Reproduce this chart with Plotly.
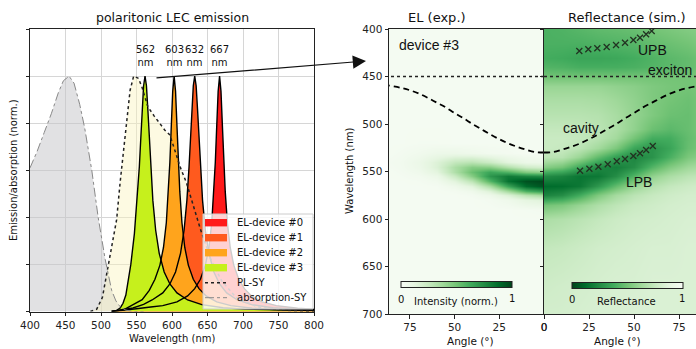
import plotly.graph_objects as go

# ---------------- left panel data ----------------
abs_wl = [400, 410, 420, 430, 440, 447, 455, 462, 470, 477, 487, 496, 506, 515, 521, 527, 535, 545, 560]
abs_val = [0.61, 0.68, 0.76, 0.84, 0.93, 0.98, 1.0, 0.97, 0.88, 0.78, 0.60, 0.40, 0.22, 0.09, 0.045, 0.02, 0.006, 0.0, 0.0]

pl_wl = [485, 494, 502, 510, 516, 522, 527, 531, 534, 537, 541, 546, 553, 558, 566, 575, 583, 590, 597,
         605, 612, 620, 630, 640, 655, 670, 690, 720, 760, 800]
pl_val = [0.0, 0.01, 0.06, 0.19, 0.29, 0.39, 0.55, 0.66, 0.76, 0.85, 0.94, 1.0, 0.99, 0.95, 0.87, 0.83, 0.80, 0.77, 0.75,
          0.68, 0.61, 0.55, 0.45, 0.35, 0.22, 0.13, 0.06, 0.02, 0.005, 0.0]

el3_wl = [515, 522, 527, 531, 535, 542, 547, 551, 554, 556, 558, 560, 562, 564, 566, 568, 570, 573, 577, 582, 589,
          597, 607, 622, 642, 672, 702, 750, 800]
el3_val = [0.0, 0.005, 0.015, 0.035, 0.07, 0.2, 0.33, 0.473, 0.615, 0.733, 0.857, 0.959, 1.0, 0.959, 0.857, 0.733,
           0.615, 0.473, 0.345, 0.247, 0.168, 0.117, 0.079, 0.049, 0.029, 0.016, 0.01, 0.006, 0.004]

el2_wl = [515, 525, 535, 543, 558, 568, 576, 583, 588, 592, 595, 597, 599, 601, 603, 605, 607, 609, 611, 614, 618,
          623, 630, 638, 648, 663, 683, 713, 743, 800]
el2_val = [0.0, 0.004, 0.012, 0.025, 0.05, 0.09, 0.137, 0.197, 0.272, 0.377, 0.509, 0.634, 0.788, 0.935, 1.0, 0.935,
           0.788, 0.634, 0.509, 0.377, 0.272, 0.197, 0.137, 0.097, 0.066, 0.041, 0.025, 0.014, 0.008, 0.005]

el1_wl = [515, 530, 545, 560, 572, 587, 597, 605, 612, 617, 621, 624, 626, 628, 630, 632, 634, 636, 638, 640, 643,
          647, 652, 659, 667, 677, 692, 712, 742, 772, 800]
el1_val = [0.0, 0.006, 0.015, 0.03, 0.049, 0.079, 0.117, 0.168, 0.247, 0.345, 0.473, 0.615, 0.733, 0.857, 0.959, 1.0,
           0.959, 0.857, 0.733, 0.615, 0.473, 0.345, 0.247, 0.168, 0.117, 0.079, 0.049, 0.029, 0.016, 0.01, 0.008]

el0_wl = [515, 530, 550, 570, 587, 607, 622, 632, 640, 647, 652, 656, 659, 661, 663, 665, 667, 669, 671, 673, 675,
          678, 682, 687, 694, 702, 712, 727, 747, 777, 800]
el0_val = [0.0, 0.004, 0.012, 0.019, 0.025, 0.041, 0.066, 0.097, 0.137, 0.197, 0.272, 0.377, 0.509, 0.634, 0.788,
           0.935, 1.0, 0.935, 0.788, 0.634, 0.509, 0.377, 0.272, 0.197, 0.137, 0.097, 0.066, 0.041, 0.025, 0.014, 0.01]

peak_nm = [562, 603, 632, 667]
device_names = ["EL-device #0", "EL-device #1", "EL-device #2", "EL-device #3"]
device_colors = ["#ff1a1a", "#ff5a1e", "#ffa41c", "#c6f01c"]
pl_name = "PL-SY"
abs_name = "absorption-SY"

# ---------------- right panels data ----------------
el_angles = [0, 10, 20, 30, 40, 50, 60, 70, 80, 87]
el_rows_nm = [400, 450, 500, 520, 530, 540, 545, 550, 555, 560, 565, 570, 575, 580, 590, 600, 650, 700]
el_intensity = [
    [0.02, 0.02, 0.02, 0.02, 0.02, 0.02, 0.02, 0.02, 0.02, 0.02],
    [0.02, 0.02, 0.02, 0.02, 0.02, 0.02, 0.02, 0.02, 0.02, 0.02],
    [0.02, 0.02, 0.02, 0.02, 0.02, 0.02, 0.02, 0.02, 0.02, 0.02],
    [0.02, 0.02, 0.02, 0.02, 0.02, 0.02, 0.025, 0.025, 0.02, 0.02],
    [0.02, 0.02, 0.03, 0.04, 0.06, 0.076, 0.073, 0.048, 0.03, 0.02],
    [0.07, 0.08, 0.135, 0.23, 0.29, 0.26, 0.16, 0.08, 0.04, 0.03],
    [0.19, 0.22, 0.32, 0.44, 0.45, 0.34, 0.166, 0.074, 0.038, 0.025],
    [0.43, 0.47, 0.59, 0.65, 0.52, 0.33, 0.13, 0.056, 0.03, 0.02],
    [0.76, 0.78, 0.82, 0.71, 0.45, 0.24, 0.08, 0.038, 0.025, 0.02],
    [0.99, 0.96, 0.85, 0.58, 0.29, 0.14, 0.046, 0.025, 0.02, 0.02],
    [0.96, 0.88, 0.65, 0.35, 0.145, 0.065, 0.025, 0.02, 0.02, 0.02],
    [0.69, 0.60, 0.37, 0.16, 0.06, 0.03, 0.02, 0.02, 0.02, 0.02],
    [0.37, 0.30, 0.165, 0.07, 0.03, 0.02, 0.02, 0.02, 0.02, 0.02],
    [0.15, 0.12, 0.06, 0.03, 0.02, 0.02, 0.02, 0.02, 0.02, 0.02],
    [0.03, 0.025, 0.02, 0.02, 0.02, 0.02, 0.02, 0.02, 0.02, 0.02],
    [0.02, 0.02, 0.02, 0.02, 0.02, 0.02, 0.02, 0.02, 0.02, 0.02],
    [0.02, 0.02, 0.02, 0.02, 0.02, 0.02, 0.02, 0.02, 0.02, 0.02],
    [0.02, 0.02, 0.02, 0.02, 0.02, 0.02, 0.02, 0.02, 0.02, 0.02],
]

refl_angles = [0, 10, 20, 30, 40, 50, 60, 70, 80, 85]
refl_rows_nm = [400, 415, 430, 440, 450, 460, 475, 490, 505, 515, 525, 535, 545, 555, 565, 575, 585, 600, 630, 670, 700]
reflectance = [
    [0.40, 0.41, 0.43, 0.45, 0.46, 0.47, 0.50, 0.52, 0.54, 0.55],
    [0.40, 0.40, 0.40, 0.41, 0.42, 0.43, 0.46, 0.48, 0.50, 0.52],
    [0.38, 0.37, 0.35, 0.35, 0.36, 0.38, 0.41, 0.44, 0.46, 0.48],
    [0.42, 0.41, 0.39, 0.39, 0.39, 0.40, 0.42, 0.44, 0.46, 0.48],
    [0.50, 0.50, 0.50, 0.50, 0.50, 0.50, 0.50, 0.50, 0.50, 0.51],
    [0.60, 0.60, 0.60, 0.60, 0.58, 0.56, 0.53, 0.51, 0.50, 0.51],
    [0.66, 0.66, 0.66, 0.65, 0.62, 0.58, 0.53, 0.50, 0.48, 0.50],
    [0.70, 0.70, 0.70, 0.69, 0.65, 0.59, 0.53, 0.48, 0.47, 0.50],
    [0.74, 0.74, 0.73, 0.71, 0.66, 0.58, 0.48, 0.44, 0.47, 0.50],
    [0.76, 0.76, 0.74, 0.70, 0.63, 0.50, 0.38, 0.38, 0.46, 0.49],
    [0.76, 0.75, 0.71, 0.63, 0.52, 0.35, 0.28, 0.35, 0.47, 0.50],
    [0.72, 0.70, 0.60, 0.45, 0.32, 0.23, 0.28, 0.40, 0.52, 0.55],
    [0.55, 0.50, 0.36, 0.24, 0.20, 0.26, 0.42, 0.54, 0.62, 0.64],
    [0.25, 0.22, 0.16, 0.17, 0.26, 0.42, 0.58, 0.66, 0.71, 0.72],
    [0.12, 0.13, 0.17, 0.30, 0.46, 0.60, 0.69, 0.74, 0.77, 0.78],
    [0.22, 0.26, 0.38, 0.53, 0.64, 0.71, 0.75, 0.78, 0.80, 0.80],
    [0.50, 0.53, 0.60, 0.67, 0.72, 0.76, 0.78, 0.80, 0.81, 0.81],
    [0.66, 0.68, 0.71, 0.74, 0.77, 0.79, 0.80, 0.81, 0.82, 0.82],
    [0.74, 0.75, 0.77, 0.79, 0.80, 0.81, 0.82, 0.82, 0.83, 0.83],
    [0.78, 0.79, 0.80, 0.81, 0.82, 0.82, 0.83, 0.83, 0.83, 0.83],
    [0.80, 0.80, 0.81, 0.82, 0.82, 0.83, 0.83, 0.83, 0.83, 0.83],
]

cavity_angle = [0, 5, 10, 15, 20, 25, 30, 35, 40, 45, 50, 55, 60, 65, 70, 75, 80, 87]
cavity_nm = [530, 529.5, 527, 524, 520.5, 516, 511, 505.5, 500, 494, 488.5, 482.5, 477.5, 472.5, 468, 464.5, 462, 459.5]
exciton_nm = 450

upb_angle = [19.6, 24.6, 29.6, 34.8, 40, 45, 49.6, 53.3, 56.7, 59.8]
upb_nm = [423.2, 421.4, 420.3, 419, 416.8, 414.4, 411.6, 409.2, 405.6, 402.1]
lpb_angle = [20, 25.2, 30.2, 35.4, 40.4, 45, 49.6, 53.3, 56.7, 60.4]
lpb_nm = [549.2, 547.1, 545, 542.4, 539.3, 536.8, 533.7, 530.8, 527.4, 523.2]

wl_ticks = [400, 450, 500, 550, 600, 650, 700, 750, 800]
angle_ticks = [0, 25, 50, 75]

greens = [[0.0, "#f7fcf5"], [0.125, "#e5f5e0"], [0.25, "#c7e9c0"], [0.375, "#a1d99b"], [0.5, "#74c476"],
          [0.625, "#41ab5d"], [0.75, "#238b45"], [0.875, "#006d2c"], [1.0, "#00441b"]]
greens_r = [[1 - p, c] for p, c in reversed(greens)]

W, H = 696, 349
def px(x):
    return x / W
def py(y):
    return (H - y) / H

TICKF = dict(family="DejaVu Sans", size=10.5, color="#222")
fig = go.Figure()

# absorption
fig.add_trace(go.Scatter(x=abs_wl, y=abs_val, mode="lines", fill="tozeroy",
                         fillcolor="rgba(195,195,200,0.5)", line=dict(width=0), showlegend=False,
                         hoverinfo="skip", xaxis="x", yaxis="y"))
# PL fill
fig.add_trace(go.Scatter(x=pl_wl, y=pl_val, mode="lines", fill="tozeroy",
                         fillcolor="rgba(250,245,190,0.45)", line=dict(width=0), showlegend=False,
                         hoverinfo="skip", xaxis="x", yaxis="y"))
el_wls = [el0_wl, el1_wl, el2_wl, el3_wl]
el_vals = [el0_val, el1_val, el2_val, el3_val]
for i in range(4):
    fig.add_trace(go.Scatter(x=el_wls[i], y=el_vals[i], mode="lines", fill="tozeroy",
                             fillcolor=device_colors[i], line=dict(width=0, color=device_colors[i]),
                             name=device_names[i], showlegend=False, xaxis="x", yaxis="y"))
for i in range(4):
    fig.add_trace(go.Scatter(x=el_wls[i], y=el_vals[i], mode="lines", line=dict(width=1.4, color="black"),
                             showlegend=False, xaxis="x", yaxis="y"))
fig.add_trace(go.Scatter(x=pl_wl, y=pl_val, mode="lines", line=dict(width=1.5, color="#222", dash="dot"),
                         name=pl_name, showlegend=False, xaxis="x", yaxis="y"))
fig.add_trace(go.Scatter(x=abs_wl, y=abs_val, mode="lines", line=dict(width=1, color="#888", dash="dashdot"),
                         name=abs_name, showlegend=False, xaxis="x", yaxis="y"))

# EL heatmap
fig.add_trace(go.Heatmap(x=el_angles, y=el_rows_nm, z=el_intensity, colorscale=greens, zmin=0, zmax=1,
                         zsmooth="best", xaxis="x2", yaxis="y2",
                         colorbar=dict(orientation="h", x=px(456.5), y=py(285), xanchor="center", yanchor="middle",
                                       len=111 / W, lenmode="fraction", thickness=6, outlinewidth=1,
                                       outlinecolor="#222", showticklabels=False, ticks="", xpad=0, ypad=0)))
# Reflectance heatmap
fig.add_trace(go.Heatmap(x=refl_angles, y=refl_rows_nm, z=reflectance, colorscale=greens_r, zmin=0, zmax=1,
                         zsmooth="best", xaxis="x3", yaxis="y3",
                         colorbar=dict(orientation="h", x=px(627.5), y=py(286), xanchor="center", yanchor="middle",
                                       len=111 / W, lenmode="fraction", thickness=6, outlinewidth=1,
                                       outlinecolor="#222", showticklabels=False, ticks="", xpad=0, ypad=0)))

for xa, ya, amax in (("x2", "y2", 87), ("x3", "y3", 85)):
    fig.add_trace(go.Scatter(x=[0, amax], y=[exciton_nm, exciton_nm], mode="lines",
                             line=dict(color="#222", width=1.5, dash="dot"), showlegend=False, xaxis=xa, yaxis=ya))
    fig.add_trace(go.Scatter(x=cavity_angle, y=cavity_nm, mode="lines", line=dict(color="black", width=1.8,
                             dash="6px,4px", shape="spline"), showlegend=False, xaxis=xa, yaxis=ya))

for a, w in ((upb_angle, upb_nm), (lpb_angle, lpb_nm)):
    fig.add_trace(go.Scatter(x=a, y=w, mode="markers", showlegend=False, xaxis="x3", yaxis="y3",
                             marker=dict(symbol="x-thin", size=6, line=dict(width=1.3, color="#223322"))))

axis_common = dict(showline=True, linecolor="#222", linewidth=1, ticks="outside", ticklen=3.5, tickwidth=1,
                   tickcolor="#222", tickfont=TICKF, zeroline=False, automargin=False)

fig.update_layout(
    width=W, height=H, margin=dict(l=0, r=0, t=0, b=0, autoexpand=False), paper_bgcolor="white",
    plot_bgcolor="white", showlegend=False,
    xaxis=dict(domain=[px(30), px(314)], range=[400, 800], tickvals=wl_ticks, showgrid=True, gridcolor="#d6d6d6",
               mirror=True, anchor="y", **axis_common),
    yaxis=dict(domain=[py(311.5), py(29)], range=[0, 1.2], dtick=0.2, showgrid=True, gridcolor="#d6d6d6",
               showticklabels=False, mirror=True, anchor="x", **axis_common),
    xaxis2=dict(domain=[px(389), px(544)], range=[86.7, 0], tickvals=angle_ticks, showgrid=False, mirror=True,
                anchor="y2", **axis_common),
    yaxis2=dict(domain=[py(314), py(29)], range=[700, 400], tickvals=[400, 450, 500, 550, 600, 650, 700],
                showgrid=False, anchor="x2", **axis_common),
    xaxis3=dict(domain=[px(544), 1.0], range=[0, 84.4], tickvals=angle_ticks, showgrid=False, mirror=True,
                anchor="y3", **axis_common),
    yaxis3=dict(domain=[py(314), py(29)], range=[700, 400], tickvals=[400, 450, 500, 550, 600, 650, 700],
                showgrid=False, showticklabels=False, anchor="x3", **axis_common),
)

ann = []
def text(x, y, t, size=10, family="DejaVu Sans", angle=0, xref="paper", xanchor="center"):
    ann.append(dict(x=x, y=y, xref=xref, yref="paper", text=t, showarrow=False, textangle=angle,
                    xanchor=xanchor, yanchor="middle", font=dict(family=family, size=size, color="#111")))

# manual legend (matplotlib-like compact box)
shapes = [dict(type="rect", xref="paper", yref="paper", x0=px(203), x1=px(313), y0=py(309), y1=py(214),
               fillcolor="rgba(255,255,255,0.8)", line=dict(color="#cccccc", width=1), layer="above")]
row_y = [222.7, 237.7, 252.7, 267.7, 282.7, 297.7]
for i in range(4):
    c = row_y[i]
    shapes.append(dict(type="rect", xref="paper", yref="paper", x0=px(205), x1=px(227), y0=py(c + 3.7),
                       y1=py(c - 3.7), fillcolor=device_colors[i], line=dict(width=0), layer="above"))
    text(px(235), py(c), device_names[i], size=10, xanchor="left")
shapes.append(dict(type="line", xref="paper", yref="paper", x0=px(205), x1=px(227), y0=py(row_y[4]),
                   y1=py(row_y[4]), line=dict(color="#222", width=1.5, dash="dot"), layer="above"))
text(px(235), py(row_y[4]), pl_name, size=10, xanchor="left")
shapes.append(dict(type="line", xref="paper", yref="paper", x0=px(205), x1=px(227), y0=py(row_y[5]),
                   y1=py(row_y[5]), line=dict(color="#888", width=1, dash="dashdot"), layer="above"))
text(px(235), py(row_y[5]), abs_name, size=10, xanchor="left")

text(px(172), py(17), "polaritonic LEC emission", size=12.5)
text(px(172), py(338), "Wavelength (nm)", size=10)
text(px(13), py(170), "Emission/absorption (norm.)", size=10, angle=-90)
for p in peak_nm:
    text(p, py(56), "%d<br>nm" % p, size=10, xref="x")
text(px(437), py(17), "EL (exp.)", size=13)
text(px(627), py(17), "Reflectance (sim.)", size=13)
text(px(349), py(171), "Wavelength (nm)", size=10, angle=-90)
text(px(470), py(341), "Angle (°)", size=10.5)
text(px(617.5), py(341), "Angle (°)", size=10.5)
text(px(429), py(45), "device #3", size=14, family="Liberation Sans")
text(px(652), py(50), "UPB", size=14, family="Liberation Sans")
text(px(669.5), py(70), "exciton", size=14, family="Liberation Sans")
text(px(581), py(128), "cavity", size=14, family="Liberation Sans")
text(px(639), py(182), "LPB", size=14, family="Liberation Sans")
text(px(456), py(301), "Intensity (norm.)", size=10)
text(px(626.5), py(301), "Reflectance", size=10)
text(px(401), py(299), "0", size=10)
text(px(512), py(298), "1", size=10)
text(px(572), py(299), "0", size=10)
text(px(682), py(298), "1", size=10)

ann.append(dict(x=px(366), y=py(61), xref="paper", yref="paper", ax=155 - 366, ay=78 - 61, axref="pixel",
                ayref="pixel", text="", showarrow=True, arrowhead=2, arrowsize=2.2, arrowwidth=1.2,
                arrowcolor="#111"))
fig.update_layout(annotations=ann, shapes=shapes)

fig.write_html("out.html", config={"displayModeBar": False},
               post_script="document.body.style.margin='0';document.body.style.padding='0';"
                           "document.documentElement.style.overflow='hidden';")
